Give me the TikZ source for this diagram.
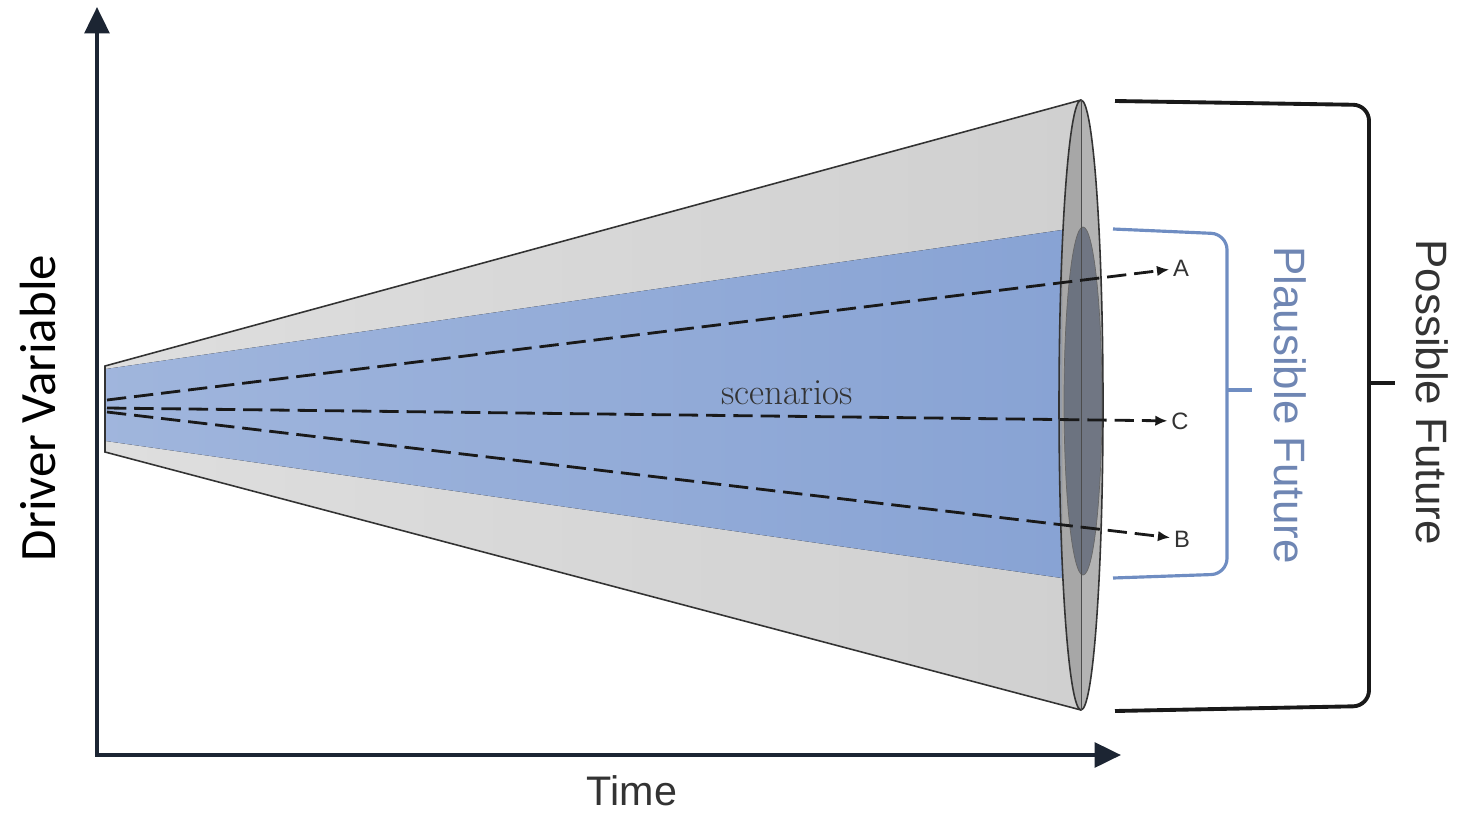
\documentclass[tikz,border=0pt]{standalone}
\usepackage{fontspec}
\newfontfamily\arialfont{Liberation Sans}
\newfontfamily\calibrifont{Carlito}
\usetikzlibrary{arrows.meta}
\definecolor{axisnavy}{HTML}{1C2533}
\definecolor{conegray}{HTML}{D0D0D0}
\definecolor{rimgray}{HTML}{9A9A9A}
\definecolor{bandblue}{HTML}{88A3D4}
\definecolor{coreblue}{HTML}{596274}
\definecolor{bracketblue}{HTML}{6F8DC2}
\definecolor{plaustext}{HTML}{6F86B3}

\begin{document}
\begin{tikzpicture}[x=0.02cm, y=-0.02cm,
        axis/.style={draw=axisnavy, line width=2.3pt, line join=miter,
                     {Triangle[length=15pt, width=14pt]}-{Triangle[length=15pt, width=14pt]}},
        rim/.style={draw=black!80, line width=0.9pt},
        scen/.style={draw=black!90, line width=1.6pt, dash pattern=on 11pt off 4.5pt,
                     -{Latex[length=7pt, width=6pt]}},
        lbl/.style={font=\arialfont\fontsize{13.5}{16}\selectfont, text=black!80, inner sep=2pt},
        brace/.style={line width=2.2pt, rounded corners=9pt},
        side/.style={font=\arialfont\fontsize{25}{30}\selectfont, rotate=-90}
    ]
        \useasboundingbox (0,0) rectangle (1483,815);

        % cone of possible futures
        \fill[left color=conegray!70!white, right color=conegray]
            (105,366) -- (1081,100) -- (1081,710) -- (105,452) -- cycle;
        \draw[rim] (1081,710) -- (105,452) -- (105,366) -- (1081,100);
        \fill[left color=bandblue!80!white, right color=bandblue]
            (106,369) -- (1062,230) -- (1062,578) -- (106,441) -- cycle;
        \filldraw[rim, fill=rimgray, fill opacity=0.75] (1081,405) ellipse [x radius=22, y radius=305];
        \filldraw[draw=black!60, fill=coreblue, fill opacity=0.75] (1083,401) ellipse [x radius=19, y radius=174];
        \draw[black!70, line width=0.5pt] (1081,100) -- (1081,710);

        % axes
        \coordinate (orig) at (97,755);
        \coordinate (ytip) at (97,7);
        \coordinate (xtip) at (1121,755);
        \draw[axis] (ytip) -- (orig) -- (xtip);
        \node[rotate=90, font=\calibrifont\fontsize{29}{34}\selectfont] (drvlbl) at (38,408) {Driver Variable};
        \node[font=\arialfont\fontsize{23.5}{28}\selectfont, text=black!80, inner sep=0pt] (timelbl) at (632,791) {Time};

        % scenarios
        \coordinate (srcA) at (107,400);
        \coordinate (srcC) at (107,408);
        \coordinate (srcB) at (107,412);
        \node[lbl] (A) at (1181,268) {A};
        \node[lbl] (C) at (1180,421) {C};
        \node[lbl] (B) at (1182,539) {B};
        \draw[scen] (srcA) -- (A);
        \draw[scen] (srcC) -- (C);
        \draw[scen] (srcB) -- (B);
        \node[font=\rmfamily\fontsize{21}{25}\selectfont, text=black!80] (scenlbl) at (787,393) {scenarios};

        % brackets
        \draw[brace, draw=bracketblue, line width=1.8pt] (1113,229) -- (1227,234) -- (1227,574) -- (1113,578);
        \draw[draw=bracketblue, line width=1.8pt] (1227,390) -- (1252,390);
        \node[side, text=plaustext] (plauslbl) at (1290,405) {Plausible Future};
        \draw[brace, draw=black!90] (1115,101) -- (1369,105) -- (1369,706) -- (1115,711);
        \draw[black!90, line width=2.2pt] (1369,383) -- (1395,383);
        \node[side, text=black!80] (posslbl) at (1432,392) {Possible Future};
    \end{tikzpicture}
\end{document}
